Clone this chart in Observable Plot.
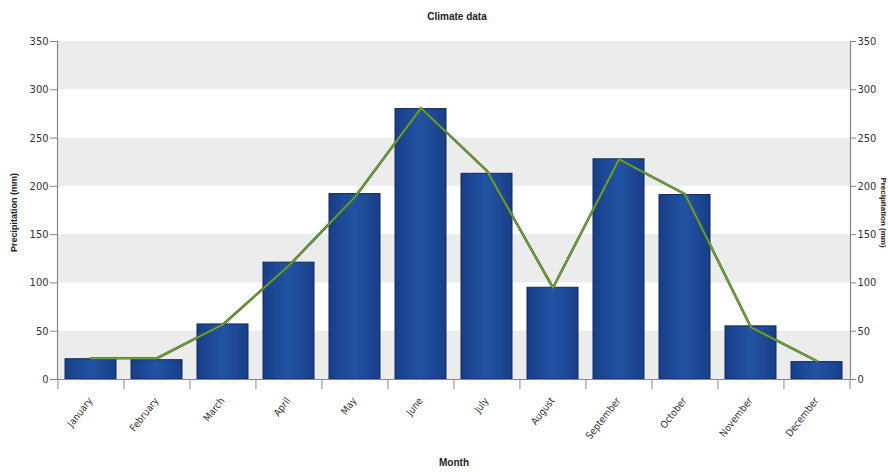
<!DOCTYPE html>
<html>
<head>
<meta charset="utf-8">
<script src="https://cdn.jsdelivr.net/npm/d3@7"></script>
<script src="https://cdn.jsdelivr.net/npm/@observablehq/plot@0.6"></script>
<style>
  html, body { margin: 0; padding: 0; background: #fff; }
  #wrap { width: 888px; height: 472px; overflow: hidden; }
  #title { height: 30px; box-sizing: border-box; padding-top: 11px; padding-left: 26px;
    text-align: center; font: bold 10px "Liberation Sans", Arial, sans-serif; line-height: 12px; color: #222; }
</style>
</head>
<body>
<div id="wrap">
  <div id="title">Climate data</div>
  <div id="chart"></div>
</div>
<script>
const months = ["January","February","March","April","May","June","July","August","September","October","November","December"];
const precipitation = [21, 20, 57, 121, 192, 280, 213, 95, 228, 191, 55, 18];
const trend = [22, 22, 57, 118, 189, 281, 216, 95, 228, 192, 54, 19];
const yTicks = [0, 50, 100, 150, 200, 250, 300, 350];
const bandLow = [0, 100, 200, 300];
const bandHigh = [50, 150, 250, 350];

const data = months.map((m, i) => ({month: m, precip: precipitation[i], trend: trend[i]}));
const bands = bandLow.map((lo, i) => ({lo, hi: bandHigh[i]}));

const W = 888, H = 442, ML = 57, MR = 38, MT = 11, MB = 93;
const step = (W - ML - MR) / months.length;
const ANGLE = 52;
const font = '"DejaVu Sans Condensed", "Liberation Sans Narrow", Arial, sans-serif';
const boldFont = '"Liberation Sans", Arial, sans-serif';

const svg = Plot.plot({
  width: W, height: H,
  marginLeft: ML, marginRight: MR, marginTop: MT, marginBottom: MB,
  style: {fontFamily: font, fontSize: "11px", color: "#333", background: "#fff"},
  x: {type: "band", domain: months, paddingInner: 0.23, paddingOuter: 0.115, axis: null},
  y: {domain: [0, 350], axis: null},
  marks: [
    Plot.rect(bands, {y1: "lo", y2: "hi", fill: "#ececec"}),
    Plot.barY(data, {x: "month", y: "precip", fill: "url(#barGrad)", stroke: "#10295e", strokeWidth: 1}),
    Plot.line(data, {x: "month", y: "trend", stroke: "#4f7727", strokeWidth: 2.6}),
    Plot.line(data, {x: "month", y: "trend", stroke: "#86b84c", strokeWidth: 0.9}),
    Plot.ruleY([0], {stroke: "#888", strokeWidth: 1.2}),
    Plot.frame({anchor: "left", stroke: "#888", strokeWidth: 1.2}),
    Plot.frame({anchor: "right", stroke: "#888", strokeWidth: 1.2}),
    Plot.axisY({anchor: "left", ticks: yTicks, tickSize: 7, tickPadding: 2, label: null, stroke: "#888", fill: "#333", fontSize: 11}),
    Plot.axisY({anchor: "right", ticks: yTicks, tickSize: 5, tickPadding: 2, label: null, stroke: "#888", fill: "#333", fontSize: 11}),
    Plot.axisX({ticks: months, tickSize: 10, text: null, label: null, dx: -step / 2, stroke: "#888"}),
    Plot.axisX({ticks: ["December"], tickSize: 10, text: null, label: null, dx: step / 2, stroke: "#888"}),
    Plot.text(months, {x: d => d, text: d => d, frameAnchor: "bottom", rotate: -ANGLE, textAnchor: "end",
      lineAnchor: "middle", dx: -0.4, dy: 19.3, fontSize: 10, fill: "#333", ariaLabel: "month-labels"}),
    Plot.text(["Month"], {frameAnchor: "bottom", textAnchor: "middle", dy: 86, fontWeight: "bold", fontSize: 10, fill: "#222",
      fontFamily: boldFont}),
    Plot.text(["Precipitation (mm)"], {frameAnchor: "left", textAnchor: "middle", dx: -43, dy: 2, rotate: -90,
      fontWeight: "bold", fontSize: 9, fill: "#222", fontFamily: boldFont}),
    Plot.text(["Precipitation (mm)"], {frameAnchor: "right", textAnchor: "middle", dx: 33, dy: 2, rotate: 90,
      fontWeight: "bold", fontSize: 8, fill: "#222", fontFamily: boldFont})
  ]
});

const ns = "http://www.w3.org/2000/svg";
const defs = document.createElementNS(ns, "defs");
const grad = document.createElementNS(ns, "linearGradient");
grad.setAttribute("id", "barGrad");
grad.setAttribute("x1", "0"); grad.setAttribute("x2", "1");
grad.setAttribute("y1", "0"); grad.setAttribute("y2", "0");
[["0%", "#183e86"], ["25%", "#1d4996"], ["50%", "#2253a4"], ["75%", "#1d4996"], ["100%", "#183e86"]].forEach(([o, c]) => {
  const s = document.createElementNS(ns, "stop");
  s.setAttribute("offset", o); s.setAttribute("stop-color", c);
  grad.appendChild(s);
});
defs.appendChild(grad);
svg.insertBefore(defs, svg.firstChild);

document.getElementById("chart").appendChild(svg);

// center each rotated month label's bounding box on its band
const cosA = Math.cos(ANGLE * Math.PI / 180);
svg.querySelectorAll('g[aria-label="month-labels"] text').forEach(t => {
  const L = t.getComputedTextLength();
  const tr = t.getAttribute("transform") || "";
  t.setAttribute("transform", `translate(${(L * cosA / 2).toFixed(2)},0) ` + tr);
});
</script>
</body>
</html>
